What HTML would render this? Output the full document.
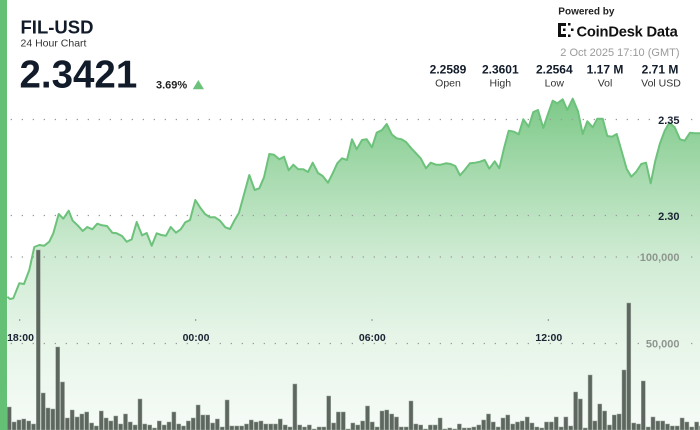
<!DOCTYPE html>
<html><head><meta charset="utf-8"><style>
html,body{margin:0;padding:0;background:#fff;}
svg{display:block;font-family:"Liberation Sans",Arial,sans-serif;}
</style></head><body>
<svg width="700" height="430" viewBox="0 0 700 430" xmlns="http://www.w3.org/2000/svg">
<defs>
<linearGradient id="g" gradientUnits="userSpaceOnUse" x1="0" y1="98" x2="0" y2="430">
<stop offset="0" stop-color="#7cc988"/>
<stop offset="0.24" stop-color="#a9dbb0"/>
<stop offset="0.48" stop-color="#cfebd3"/>
<stop offset="0.72" stop-color="#e6f5e8"/>
<stop offset="1" stop-color="#f6fbf7"/>
</linearGradient>
</defs>
<rect x="0" y="0" width="700" height="430" fill="#fff"/>
<path fill="url(#g)" d="M7.3,296.7 L10,299 L13.3,298.3 L19.3,283.3 L24,284 L29.3,270 L34.3,247 L39.3,245 L44.3,245.7 L49.3,241.7 L53.3,233.3 L58.7,214 L63.3,218.7 L68.7,210.7 L72.7,220.7 L78,225.7 L82.7,231 L87.3,227 L92.3,229.3 L97.3,223.7 L102,225.3 L107,226 L112.3,232.7 L116.7,233.3 L122,236 L126.7,241.7 L131.7,239.3 L136.7,222 L142,235.3 L146.7,233 L151.7,245.7 L156.7,233.3 L161.3,235 L166,235.7 L170.7,227 L176,232.7 L180.7,229.3 L185.3,222.3 L190,220 L195.3,200 L200,207.3 L205,214 L210,217.3 L215,217.3 L220,220.7 L225.3,227.3 L230,229 L234.7,220 L239,212.7 L249.3,175 L254.7,190 L259.3,188.3 L264,177.3 L269.3,154 L274,154.7 L279.3,159.3 L284,156.7 L288.7,170.3 L293.3,164.7 L298.3,169.3 L303.3,169.3 L308,172 L312.7,162.7 L318,173 L322.7,176 L328,182.7 L332.7,173.3 L337.3,163.3 L342,158.3 L347,160 L352,139.3 L356.7,149.3 L362,140 L366.7,139.3 L372,147.3 L376.7,132.7 L382,130 L386.7,124 L392,134.7 L396.7,138.3 L401.7,139.3 L406,142 L411.3,148.3 L416,153.3 L420.7,158.3 L426,168.3 L430.7,162.7 L436,164.7 L440.7,164.7 L446,163.3 L450.7,164 L455.3,166 L460,175.3 L464.7,170 L470,163.3 L475.3,162.7 L480,161.7 L484.7,160 L489.3,168.7 L494.7,161.3 L499.3,168.3 L504,148.3 L508.7,130.7 L514,131.7 L518.7,134.3 L523.3,119.3 L528.7,126.7 L533.3,112 L538,110 L543.3,128 L548,114 L552.7,100.7 L557.3,103.3 L562.7,99.3 L567.3,110 L572.7,98.7 L578,111.3 L582.7,134 L587.3,121.3 L592.7,127.3 L597.3,118.7 L602.7,118.7 L607.3,136 L612,136.7 L616.7,134 L621.3,150 L626.7,169 L631.3,176.7 L636,172 L641.3,164 L646,162.7 L650.7,183.3 L655.3,160.7 L660,143.3 L664.7,130.7 L669.3,122.7 L674.7,127.3 L680,139.3 L684.7,140.7 L690,132.7 L694.7,133.3 L700,133.3 L700,430 L7.3,430 Z"/>
<g stroke="#9a9a9a" stroke-width="1.3" stroke-dasharray="1.3 9.7" fill="none">
<line x1="10.7" y1="119.5" x2="652" y2="119.5"/>
<line x1="691" y1="119.5" x2="700" y2="119.5"/>
<line x1="10.7" y1="215.5" x2="652" y2="215.5"/>
<line x1="691" y1="215.5" x2="700" y2="215.5"/>
<line x1="10.7" y1="257" x2="640" y2="257"/>
<line x1="691" y1="257" x2="700" y2="257"/>
<line x1="10.7" y1="343.5" x2="640" y2="343.5"/>
<line x1="691" y1="343.5" x2="700" y2="343.5"/>
</g>
<g fill="#5e675f" stroke="#9aa59b" stroke-width="0.5">
<rect x="7.3" y="407" width="4" height="23"/><rect x="12.1" y="422" width="4" height="8"/><rect x="17.0" y="420" width="4" height="10"/><rect x="21.8" y="419" width="4" height="11"/><rect x="26.7" y="421" width="4" height="9"/><rect x="31.5" y="424" width="4" height="6"/><rect x="36.3" y="250" width="4" height="180"/><rect x="41.2" y="393" width="4" height="37"/><rect x="46.0" y="408" width="4" height="22"/><rect x="50.9" y="409" width="4" height="21"/>
<rect x="55.7" y="347" width="4" height="83"/><rect x="60.5" y="382" width="4" height="48"/><rect x="65.4" y="418" width="4" height="12"/><rect x="70.2" y="410" width="4" height="20"/><rect x="75.1" y="417" width="4" height="13"/><rect x="79.9" y="414" width="4" height="16"/><rect x="84.7" y="412" width="4" height="18"/><rect x="89.6" y="423" width="4" height="7"/><rect x="94.4" y="426" width="4" height="4"/><rect x="99.3" y="411" width="4" height="19"/>
<rect x="104.1" y="418" width="4" height="12"/><rect x="108.9" y="421" width="4" height="9"/><rect x="113.8" y="416" width="4" height="14"/><rect x="118.6" y="424" width="4" height="6"/><rect x="123.5" y="414" width="4" height="16"/><rect x="128.3" y="422" width="4" height="8"/><rect x="133.1" y="425" width="4" height="5"/><rect x="138.0" y="399" width="4" height="31"/><rect x="142.8" y="424" width="4" height="6"/><rect x="147.7" y="425" width="4" height="5"/>
<rect x="152.5" y="428" width="4" height="2"/><rect x="157.3" y="421" width="4" height="9"/><rect x="162.2" y="425" width="4" height="5"/><rect x="167.0" y="422" width="4" height="8"/><rect x="171.9" y="412" width="4" height="18"/><rect x="176.7" y="424" width="4" height="6"/><rect x="181.5" y="426" width="4" height="4"/><rect x="186.4" y="421" width="4" height="9"/><rect x="191.2" y="418" width="4" height="12"/><rect x="196.1" y="405" width="4" height="25"/>
<rect x="200.9" y="415" width="4" height="15"/><rect x="205.7" y="415" width="4" height="15"/><rect x="210.6" y="423" width="4" height="7"/><rect x="215.4" y="419" width="4" height="11"/><rect x="220.3" y="427" width="4" height="3"/><rect x="225.1" y="400" width="4" height="30"/><rect x="229.9" y="426" width="4" height="4"/><rect x="234.8" y="426" width="4" height="4"/><rect x="239.6" y="426" width="4" height="4"/><rect x="244.5" y="424" width="4" height="6"/>
<rect x="249.3" y="420" width="4" height="10"/><rect x="254.1" y="422" width="4" height="8"/><rect x="259.0" y="421" width="4" height="9"/><rect x="263.8" y="424" width="4" height="6"/><rect x="268.7" y="424" width="4" height="6"/><rect x="273.5" y="424" width="4" height="6"/><rect x="278.3" y="419" width="4" height="11"/><rect x="283.2" y="425" width="4" height="5"/><rect x="288.0" y="427" width="4" height="3"/><rect x="292.9" y="384" width="4" height="46"/>
<rect x="297.7" y="425" width="4" height="5"/><rect x="302.5" y="427" width="4" height="3"/><rect x="307.4" y="425" width="4" height="5"/><rect x="312.2" y="429" width="4" height="1"/><rect x="317.1" y="427" width="4" height="3"/><rect x="321.9" y="427" width="4" height="3"/><rect x="326.7" y="396" width="4" height="34"/><rect x="331.6" y="423" width="4" height="7"/><rect x="336.4" y="412" width="4" height="18"/><rect x="341.3" y="412" width="4" height="18"/>
<rect x="346.1" y="429" width="4" height="1"/><rect x="350.9" y="423" width="4" height="7"/><rect x="355.8" y="425" width="4" height="5"/><rect x="360.6" y="421" width="4" height="9"/><rect x="365.5" y="406" width="4" height="24"/><rect x="370.3" y="422" width="4" height="8"/><rect x="375.1" y="427" width="4" height="3"/><rect x="380.0" y="411" width="4" height="19"/><rect x="384.8" y="410" width="4" height="20"/><rect x="389.7" y="414" width="4" height="16"/>
<rect x="394.5" y="417" width="4" height="13"/><rect x="399.3" y="427" width="4" height="3"/><rect x="404.2" y="427" width="4" height="3"/><rect x="409.0" y="401" width="4" height="29"/><rect x="413.9" y="424" width="4" height="6"/><rect x="418.7" y="425" width="4" height="5"/><rect x="423.5" y="429" width="4" height="1"/><rect x="428.4" y="425" width="4" height="5"/><rect x="433.2" y="425" width="4" height="5"/><rect x="438.1" y="418" width="4" height="12"/>
<rect x="442.9" y="429" width="4" height="1"/><rect x="447.7" y="428" width="4" height="2"/><rect x="452.6" y="429" width="4" height="1"/><rect x="457.4" y="424" width="4" height="6"/><rect x="462.3" y="428" width="4" height="2"/><rect x="467.1" y="428" width="4" height="2"/><rect x="471.9" y="427" width="4" height="3"/><rect x="476.8" y="425" width="4" height="5"/><rect x="481.6" y="420" width="4" height="10"/><rect x="486.5" y="414" width="4" height="16"/>
<rect x="491.3" y="422" width="4" height="8"/><rect x="496.1" y="427" width="4" height="3"/><rect x="501.0" y="418" width="4" height="12"/><rect x="505.8" y="415" width="4" height="15"/><rect x="510.7" y="424" width="4" height="6"/><rect x="515.5" y="422" width="4" height="8"/><rect x="520.3" y="421" width="4" height="9"/><rect x="525.2" y="417" width="4" height="13"/><rect x="530.0" y="423" width="4" height="7"/><rect x="534.9" y="427" width="4" height="3"/>
<rect x="539.7" y="428" width="4" height="2"/><rect x="544.5" y="422" width="4" height="8"/><rect x="549.4" y="422" width="4" height="8"/><rect x="554.2" y="417" width="4" height="13"/><rect x="559.1" y="427" width="4" height="3"/><rect x="563.9" y="417" width="4" height="13"/><rect x="568.7" y="426" width="4" height="4"/><rect x="573.6" y="392" width="4" height="38"/><rect x="578.4" y="399" width="4" height="31"/><rect x="583.3" y="428" width="4" height="2"/>
<rect x="588.1" y="375" width="4" height="55"/><rect x="592.9" y="421" width="4" height="9"/><rect x="597.8" y="404" width="4" height="26"/><rect x="602.6" y="411" width="4" height="19"/><rect x="607.5" y="425" width="4" height="5"/><rect x="612.3" y="415" width="4" height="15"/><rect x="617.1" y="414" width="4" height="16"/><rect x="622.0" y="370" width="4" height="60"/><rect x="626.8" y="303" width="4" height="127"/><rect x="631.7" y="423" width="4" height="7"/>
<rect x="636.5" y="424" width="4" height="6"/><rect x="641.3" y="381" width="4" height="49"/><rect x="646.2" y="427" width="4" height="3"/><rect x="651.0" y="417" width="4" height="13"/><rect x="655.9" y="421" width="4" height="9"/><rect x="660.7" y="421" width="4" height="9"/><rect x="665.5" y="424" width="4" height="6"/><rect x="670.4" y="426" width="4" height="4"/><rect x="675.2" y="426" width="4" height="4"/><rect x="680.1" y="418" width="4" height="12"/>
<rect x="684.9" y="422" width="4" height="8"/><rect x="689.7" y="427" width="4" height="3"/><rect x="694.6" y="422" width="4" height="8"/><rect x="699.4" y="426" width="4" height="4"/>
</g>
<polyline fill="none" stroke="#6cc27b" stroke-width="2" stroke-linejoin="round" points="7.3,296.7 10,299 13.3,298.3 19.3,283.3 24,284 29.3,270 34.3,247 39.3,245 44.3,245.7 49.3,241.7 53.3,233.3 58.7,214 63.3,218.7 68.7,210.7 72.7,220.7 78,225.7 82.7,231 87.3,227 92.3,229.3 97.3,223.7 102,225.3 107,226 112.3,232.7 116.7,233.3 122,236 126.7,241.7 131.7,239.3 136.7,222 142,235.3 146.7,233 151.7,245.7 156.7,233.3 161.3,235 166,235.7 170.7,227 176,232.7 180.7,229.3 185.3,222.3 190,220 195.3,200 200,207.3 205,214 210,217.3 215,217.3 220,220.7 225.3,227.3 230,229 234.7,220 239,212.7 249.3,175 254.7,190 259.3,188.3 264,177.3 269.3,154 274,154.7 279.3,159.3 284,156.7 288.7,170.3 293.3,164.7 298.3,169.3 303.3,169.3 308,172 312.7,162.7 318,173 322.7,176 328,182.7 332.7,173.3 337.3,163.3 342,158.3 347,160 352,139.3 356.7,149.3 362,140 366.7,139.3 372,147.3 376.7,132.7 382,130 386.7,124 392,134.7 396.7,138.3 401.7,139.3 406,142 411.3,148.3 416,153.3 420.7,158.3 426,168.3 430.7,162.7 436,164.7 440.7,164.7 446,163.3 450.7,164 455.3,166 460,175.3 464.7,170 470,163.3 475.3,162.7 480,161.7 484.7,160 489.3,168.7 494.7,161.3 499.3,168.3 504,148.3 508.7,130.7 514,131.7 518.7,134.3 523.3,119.3 528.7,126.7 533.3,112 538,110 543.3,128 548,114 552.7,100.7 557.3,103.3 562.7,99.3 567.3,110 572.7,98.7 578,111.3 582.7,134 587.3,121.3 592.7,127.3 597.3,118.7 602.7,118.7 607.3,136 612,136.7 616.7,134 621.3,150 626.7,169 631.3,176.7 636,172 641.3,164 646,162.7 650.7,183.3 655.3,160.7 660,143.3 664.7,130.7 669.3,122.7 674.7,127.3 680,139.3 684.7,140.7 690,132.7 694.7,133.3 700,133.3"/>
<g font-size="11" font-weight="bold" text-anchor="end">
<text x="679.5" y="124" fill="#1a2333">2.35</text>
<text x="679.5" y="220" fill="#1a2333">2.30</text>
<text x="679.5" y="261" fill="#8e968f">100,000</text>
<text x="679.5" y="347.5" fill="#8e968f">50,000</text>
</g>
<g fill="#333">
<rect x="19.2" y="319.5" width="1" height="1"/>
<rect x="195.2" y="319.5" width="1" height="1"/>
<rect x="371.5" y="319.5" width="1" height="1"/>
<rect x="547.8" y="319.5" width="1" height="1"/>
</g>
<g font-size="10.5" font-weight="bold" text-anchor="middle" fill="#1a2333">
<text x="20.5" y="341">18:00</text>
<text x="196" y="341">00:00</text>
<text x="372.3" y="341">06:00</text>
<text x="548.8" y="341">12:00</text>
</g>
<rect x="0" y="0" width="7" height="430" fill="#64c074"/>
<text x="20.5" y="33.5" font-size="18.5" font-weight="bold" fill="#111b29">FIL-USD</text>
<text x="20.5" y="46.5" font-size="10.5" fill="#333">24 Hour Chart</text>
<text x="19.5" y="87.3" font-size="38.5" font-weight="bold" fill="#111b29">2.3421</text>
<text x="156" y="88.3" font-size="11" font-weight="bold" fill="#222">3.69%</text>
<polygon points="192.7,89.3 204,89.3 198.3,80" fill="#6cc27b"/>
<text x="558.3" y="14.5" font-size="10" font-weight="bold" fill="#222">Powered by</text>
<g fill="#111">
<rect x="558" y="23" width="3" height="14"/>
<rect x="558" y="23" width="8" height="3"/>
<rect x="558" y="34" width="8" height="3"/>
<rect x="563" y="28.5" width="2.5" height="2.5"/>
<rect x="568" y="23" width="2.5" height="2.5"/>
<rect x="571" y="28.5" width="2.5" height="2.5"/>
<rect x="568" y="34.5" width="2.5" height="2.5"/>
</g>
<text x="576.5" y="36.5" font-size="14.7" font-weight="bold" fill="#111" letter-spacing="-0.2">CoinDesk Data</text>
<text x="679.5" y="56" font-size="11" fill="#9a9a9a" text-anchor="end">2 Oct 2025 17:10 (GMT)</text>
<g font-size="12" font-weight="bold" fill="#111b29" text-anchor="middle">
<text x="448" y="73.3">2.2589</text>
<text x="500.3" y="73.3">2.3601</text>
<text x="554.3" y="73.3">2.2564</text>
<text x="605" y="73.3">1.17 M</text>
<text x="660" y="73.3">2.71 M</text>
</g>
<g font-size="10.5" fill="#333" text-anchor="middle">
<text x="448" y="86.5">Open</text>
<text x="500.3" y="86.5">High</text>
<text x="554.3" y="86.5">Low</text>
<text x="605" y="86.5">Vol</text>
<text x="661" y="86.5">Vol USD</text>
</g>
</svg>
</body></html>
